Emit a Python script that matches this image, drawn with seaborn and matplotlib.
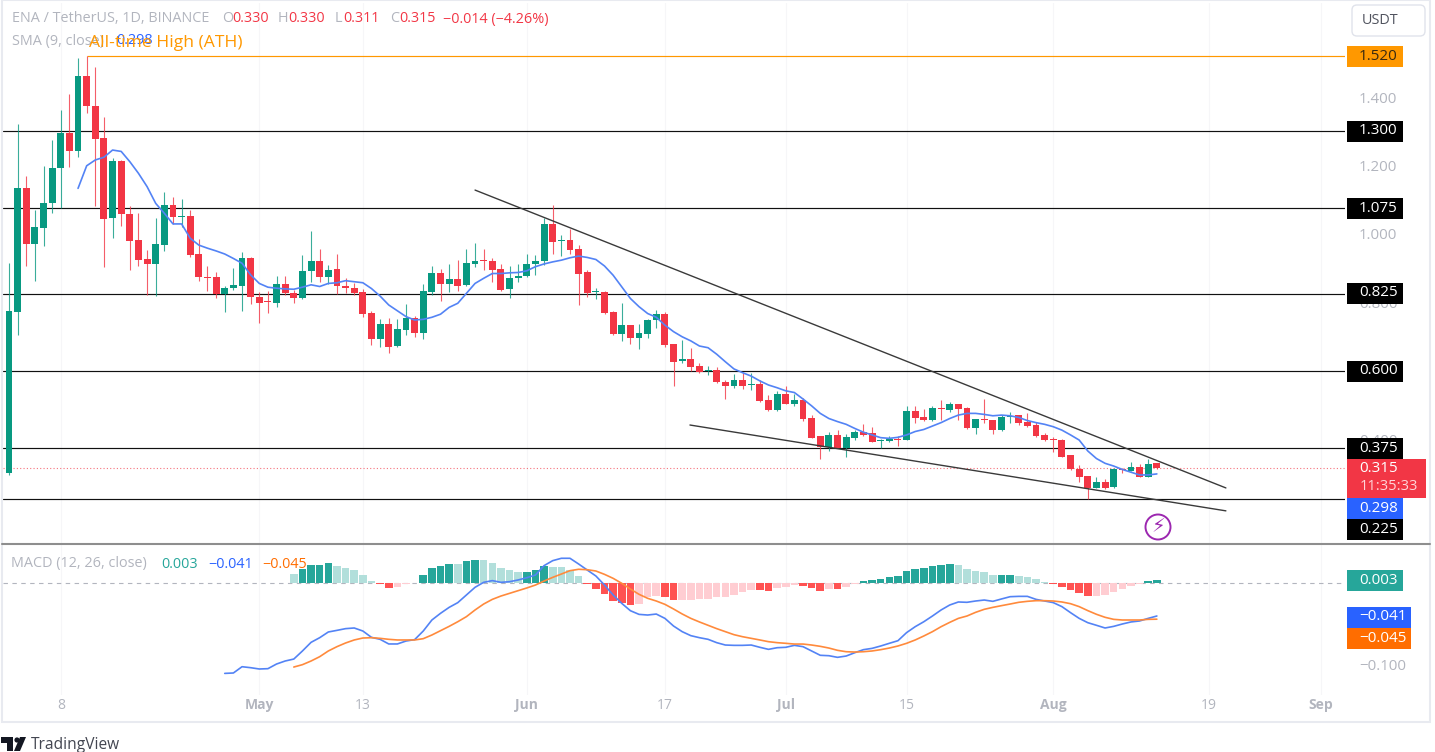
import matplotlib
matplotlib.use("Agg")
import matplotlib.pyplot as plt
from matplotlib.patches import Rectangle, FancyBboxPatch, Circle, Polygon
import numpy as np
import seaborn as sns

# daily candles, day 0 = 2 Apr
OPENS = [
    .301, .772, 1.135, .970, 1.017, 1.089, 1.192, 1.295, 1.243, 1.463,
    1.375, 1.280, 1.047, 1.212, 1.058, .982, .925, .911, .967, 1.085,
    1.048, 1.052, .940, .875, .873, .823, .841, .847, .928, .816,
    .803, .797, .853, .828, .811, .891, .922, .875, .896, .848,
    .841, .831, .769, .692, .736, .672, .719, .753, .711, .831,
    .886, .852, .867, .851, .911, .924, .922, .896, .838, .871,
    .878, .912, .921, 1.029, .980, .982, .955, .887, .829, .831,
    .772, .707, .733, .695, .707, .748, .767, .677, .628, .635,
    .614, .600, .603, .568, .556, .573, .559, .561, .514, .485,
    .532, .502, .514, .461, .408, .376, .413, .375, .402, .422,
    .417, .395, .394, .400, .397, .482, .463, .456, .490, .485,
    .502, .490, .431, .460, .456, .426, .465, .470, .450, .441,
    .412, .399, .397, .352, .313, .292, .258, .274, .260, .312,
    .307, .319, .290, .330,
]
HIGHS = [
    .915, 1.321, 1.170, 1.070, 1.198, 1.274, 1.363, 1.408, 1.513, 1.520,
    1.487, 1.343, 1.221, 1.215, 1.082, 1.060, .953, 1.045, 1.123, 1.109,
    1.102, 1.070, .986, .907, .889, .848, .899, .946, .933, .831,
    .834, .878, .877, .836, .938, 1.008, .955, .909, .940, .872,
    .855, .838, .775, .751, .753, .751, .795, .760, .852, .906,
    .897, .912, .923, .955, .974, .957, .928, .912, .906, .912,
    .941, .938, 1.045, 1.084, .996, 1.013, .967, .894, .842, .832,
    .775, .797, .733, .735, .750, .777, .772, .677, .689, .667,
    .621, .614, .612, .573, .590, .592, .592, .573, .529, .541,
    .556, .532, .521, .470, .408, .421, .426, .414, .426, .443,
    .435, .399, .409, .409, .497, .497, .488, .497, .514, .508,
    .502, .495, .458, .517, .456, .470, .478, .470, .475, .449,
    .417, .407, .399, .353, .324, .292, .288, .284, .314, .314,
    .334, .326, .341, .330,
]
LOWS = [
    .296, .704, .907, .863, .964, 1.062, 1.075, 1.196, 1.226, 1.354,
    1.082, .904, .989, 1.023, .894, .906, .821, .818, .951, 1.029,
    1.021, .933, .862, .834, .813, .772, .836, .775, .795, .738,
    .768, .785, .821, .797, .809, .860, .860, .853, .824, .826,
    .821, .758, .675, .668, .653, .670, .704, .699, .692, .821,
    .804, .831, .834, .848, .904, .894, .860, .833, .813, .860,
    .875, .879, .909, .941, .935, .941, .792, .816, .809, .766,
    .703, .687, .678, .662, .694, .725, .668, .556, .621, .599,
    .592, .587, .563, .516, .548, .545, .543, .509, .483, .483,
    .501, .496, .454, .402, .343, .366, .373, .348, .397, .410,
    .390, .373, .390, .381, .397, .448, .453, .454, .457, .480,
    .456, .429, .415, .446, .415, .424, .448, .442, .436, .407,
    .394, .363, .348, .310, .275, .224, .256, .254, .258, .300,
    .306, .290, .290, .311,
]
CLOSES = [
    .774, 1.135, .970, 1.020, 1.091, 1.192, 1.295, 1.243, 1.463, 1.373,
    1.278, 1.044, 1.212, 1.057, .980, .924, .911, .969, 1.085, 1.050,
    1.051, .937, .873, .871, .823, .842, .850, .928, .814, .797,
    .800, .853, .826, .811, .892, .922, .875, .894, .847, .841,
    .828, .765, .692, .736, .668, .722, .753, .711, .834, .886,
    .852, .867, .848, .914, .922, .921, .894, .837, .872, .878,
    .911, .922, 1.029, .977, .983, .953, .884, .826, .832, .769,
    .707, .733, .695, .709, .748, .767, .674, .624, .635, .611,
    .597, .603, .566, .556, .573, .556, .562, .512, .485, .532,
    .503, .514, .459, .403, .376, .413, .375, .405, .422, .412,
    .390, .398, .400, .397, .482, .461, .457, .490, .487, .502,
    .489, .431, .458, .455, .426, .465, .468, .446, .439, .409,
    .397, .396, .348, .311, .290, .258, .274, .258, .311, .309,
    .319, .290, .327, .315,
]

# SMA 9 starts on day 8
SMA_START = 8
SMA = [
    1.133, 1.199, 1.216, 1.224, 1.245, 1.241, 1.211, 1.177, 1.138, 1.089,
    1.060, 1.029, 1.029, .987, .967, .958, .950, .941, .928, .914,
    .880, .855, .844, .841, .839, .838, .844, .851, .846, .855,
    .857, .863, .860, .857, .840, .818, .792, .775, .758, .748,
    .750, .756, .765, .785, .797, .826, .855, .870, .884, .884,
    .886, .887, .892, .904, .912, .918, .923, .930, .935, .931,
    .925, .906, .879, .845, .811, .787, .767, .756, .733, .714,
    .699, .687, .672, .667, .648, .626, .605, .594, .584, .570,
    .558, .550, .541, .536, .517, .497, .475, .460, .451, .443,
    .431, .420, .412, .404, .402, .405, .412, .422, .428, .438,
    .448, .460, .470, .475, .475, .472, .468, .470, .468, .463,
    .454, .448, .443, .436, .426, .412, .397, .365, .343, .329,
    .321, .311, .303, .295, .295, .298,
]

MACD_START = 25
MACD = [
    -.1115, -.1110, -.1033, -.1045, -.1061, -.1057, -.1000, -.0963, -.0939, -.0840,
    -.0734, -.0677, -.0607, -.0587, -.0566, -.0558, -.0595, -.0673, -.0697, -.0754,
    -.0754, -.0718, -.0701, -.0595, -.0460, -.0378, -.0305, -.0247, -.0153, -.0059,
    .0002, .0023, .0002, .0010, .0031, .0059, .0092, .0207, .0268, .0297,
    .0297, .0227, .0153, .0080, -.0031, -.0153, -.0256, -.0346, -.0391, -.0399,
    -.0387, -.0440, -.0534, -.0603, -.0652, -.0677, -.0697, -.0738, -.0767, -.0771,
    -.0771, -.0767, -.0795, -.0820, -.0800, -.0795, -.0771, -.0787, -.0840, -.0893,
    -.0898, -.0918, -.0902, -.0861, -.0824, -.0808, -.0779, -.0746, -.0714, -.0615,
    -.0542, -.0481, -.0411, -.0337, -.0276, -.0239, -.0243, -.0227, -.0215, -.0231,
    -.0202, -.0174, -.0170, -.0170, -.0207, -.0227, -.0247, -.0296, -.0370, -.0440,
    -.0493, -.0525, -.0558, -.0538, -.0509, -.0484, -.0472, -.0440, -.0411,
]

SIGNAL_START = 33
SIGNAL = [
    -.1037, -.1008, -.0963, -.0910, -.0840, -.0787, -.0742, -.0705, -.0681, -.0677,
    -.0685, -.0697, -.0705, -.0705, -.0705, -.0689, -.0644, -.0591, -.0538, -.0481,
    -.0419, -.0337, -.0264, -.0207, -.0166, -.0133, -.0100, -.0067, -.0031, .0018,
    .0063, .0104, .0145, .0162, .0157, .0141, .0100, .0051, -.0010, -.0080,
    -.0145, -.0194, -.0227, -.0268, -.0325, -.0386, -.0440, -.0484, -.0525, -.0566,
    -.0603, -.0640, -.0665, -.0685, -.0705, -.0726, -.0738, -.0746, -.0755, -.0755,
    -.0767, -.0783, -.0804, -.0832, -.0849, -.0853, -.0849, -.0840, -.0824, -.0804,
    -.0779, -.0746, -.0705, -.0656, -.0603, -.0542, -.0489, -.0440, -.0411, -.0366,
    -.0329, -.0305, -.0284, -.0264, -.0243, -.0231, -.0223, -.0223, -.0227, -.0239,
    -.0260, -.0296, -.0345, -.0390, -.0427, -.0452, -.0460, -.0460, -.0460, -.0452, -.0450,
]

HIST = [
    .0104, .0162, .0215, .0220, .0235, .0202, .0178, .0153, .0092, .0018,
    -.0018, -.0067, -.0051, -.0014, -.0010, .0092, .0178, .0207, .0231, .0231,
    .0264, .0276, .0276, .0243, .0178, .0153, .0129, .0133, .0153, .0207,
    .0194, .0190, .0153, .0080, -.0018, -.0080, -.0141, -.0227, -.0256, -.0276,
    -.0264, -.0182, -.0166, -.0178, -.0215, -.0215, -.0215, -.0207, -.0198, -.0182,
    -.0174, -.0153, -.0117, -.0092, -.0096, -.0104, -.0072, -.0051, -.0031, -.0043,
    -.0067, -.0104, -.0080, -.0084, -.0051, -.0018, .0014, .0031, .0043, .0067,
    .0084, .0145, .0166, .0182, .0207, .0219, .0231, .0215, .0166, .0141,
    .0129, .0090, .0092, .0094, .0080, .0063, .0039, .0006, -.0018, -.0051,
    -.0092, -.0125, -.0162, -.0162, -.0153, -.0112, -.0076, -.0039, -.0018, .0018, .0030,
]

LEVELS = [1.300, 1.075, .825, .600, .375, .225]
ATH = 1.520
LAST_PRICE = .315
TREND_UPPER_DAYS = [54, 141]
TREND_UPPER_PRICES = [1.128, .257]
TREND_LOWER_DAYS = [78.9, 141]
TREND_LOWER_PRICES = [.441, .190]

TICK_DAYS = [6, 29, 41, 60, 76, 90, 104, 121, 139, 152]
TICK_LABELS = ["8", "May", "13", "Jun", "17", "Jul", "15", "Aug", "19", "Sep"]
PRICE_TICKS = [1.4, 1.2, 1.0, .8, .6, .4]

UP = "#089981"
DOWN = "#f23645"
BLUE = "#2962ff"
ORANGE = "#ff6d00"
GREY = "#b2b5be"
W, H = 1435, 752


def px_axes(fig, left, top, right, bottom):
    return fig.add_axes([left / W, 1 - bottom / H, (right - left) / W, (bottom - top) / H])


def hist_colors(values):
    colors = []
    for i, v in enumerate(values):
        rising = i > 0 and v > values[i - 1]
        falling = i > 0 and v < values[i - 1]
        if v >= 0:
            colors.append("#26a69a" if rising else "#b2dfdb")
        else:
            colors.append("#ff5252" if falling else "#ffcdd2")
    return colors


sns.set_theme(style="white")
plt.rcParams["font.family"] = ["Open Sans", "DejaVu Sans"]

fig = plt.figure(figsize=(W / 100, H / 100), dpi=100, facecolor="white")
ax = px_axes(fig, 3, 3, 1345, 543)
sub = px_axes(fig, 3, 545, 1345, 695)
xlim = (-0.695, 154.8)

days = np.arange(len(OPENS))
opens = np.array(OPENS)
closes = np.array(CLOSES)
colors = [UP if c >= o else DOWN for o, c in zip(opens, closes)]

for a in (ax, sub):
    for t in TICK_DAYS:
        a.axvline(t, color="#f6f6f8", lw=0.8, zorder=0)

for level in LEVELS:
    ax.axhline(level, color="#111111", lw=0.85, zorder=1)
ax.hlines(ATH, 9, xlim[1], color="#ff9800", lw=0.85, zorder=1)
ax.axhline(LAST_PRICE, color=DOWN, lw=0.8, ls=(0, (1, 2)), alpha=0.7, zorder=1)

ax.vlines(days, LOWS, HIGHS, color=colors, lw=0.8, alpha=0.8, zorder=2)
ax.bar(days, np.maximum(np.abs(closes - opens), 0.003), bottom=np.minimum(opens, closes),
       width=0.8, color=colors, edgecolor="none", zorder=2.5)

sns.lineplot(x=np.arange(len(SMA)) + SMA_START, y=SMA, ax=ax, color="#5383f5", linewidth=1.2,
             zorder=3, legend=False)
sns.lineplot(x=TREND_UPPER_DAYS, y=TREND_UPPER_PRICES, ax=ax, color="#3a3a3a", linewidth=1.0,
             zorder=3, legend=False)
sns.lineplot(x=TREND_LOWER_DAYS, y=TREND_LOWER_PRICES, ax=ax, color="#3a3a3a", linewidth=1.0,
             zorder=3, legend=False)

ax.set_xlim(xlim)
ax.set_ylim(.096, 1.675)
ax.set_xticks([])
ax.yaxis.tick_right()
ax.set_yticks(PRICE_TICKS)
ax.set_yticklabels([f"{p:.3f}" for p in PRICE_TICKS])

sub.axhline(0, color=GREY, lw=0.8, ls=(0, (4, 4)), zorder=1)
hist_days = np.arange(len(HIST)) + SIGNAL_START
sub.bar(hist_days, HIST, width=0.88, color=hist_colors(HIST), edgecolor="none", zorder=2)
sns.lineplot(x=np.arange(len(MACD)) + MACD_START, y=MACD, ax=sub, color="#5383f5", linewidth=1.2,
             zorder=3, legend=False)
sns.lineplot(x=np.arange(len(SIGNAL)) + SIGNAL_START, y=SIGNAL, ax=sub, color="#ff8a3c", linewidth=1.2,
             zorder=4, legend=False)
sub.set_xlim(xlim)
sub.set_ylim(-.138, .046)
sub.yaxis.tick_right()
sub.set_yticks([-.1])
sub.set_yticklabels(["\u22120.100"])
sub.set_xticks(TICK_DAYS)
sub.set_xticklabels(TICK_LABELS)
for lab in sub.get_xticklabels():
    if lab.get_text().isalpha():
        lab.set_fontweight("bold")

for a in (ax, sub):
    a.set_facecolor("white")
    a.set_xlabel("")
    a.set_ylabel("")
    sns.despine(ax=a, left=True, right=True, top=True, bottom=True)
    a.tick_params(axis="y", length=0, pad=10, labelsize=10.8, labelcolor=GREY)
    a.tick_params(axis="x", length=0, pad=2.5, labelsize=10, labelcolor=GREY)

# overlay in pixel coordinates for the TradingView chrome
ov = fig.add_axes([0, 0, 1, 1], zorder=10)
ov.set_xlim(0, W)
ov.set_ylim(H, 0)
ov.axis("off")
ov.patch.set_alpha(0)

ov.add_patch(Rectangle((2, 0), 1428, 722, fill=False, ec="#e8eaf0", lw=1.5))
ov.add_line(plt.Line2D([2, 1430], [544, 544], color="#8e8e8e", lw=1.5))


def price_box(label, y, color, text_color="white", right=1403):
    ov.add_patch(Rectangle((1347, y - 10.5), right - 1347, 21, color=color, lw=0))
    ov.text(1359, y, label, color=text_color, fontsize=11, va="center", ha="left")


price_box("1.520", 56, "#ff9800", "#3a2a10")
for lab, y in [("1.300", 131), ("1.075", 208), ("0.825", 293), ("0.600", 371), ("0.375", 448), ("0.225", 529.5)]:
    price_box(lab, y, "black")
ov.add_patch(Rectangle((1347, 458.5), 79, 39, color=DOWN, lw=0))
ov.text(1359, 469, "0.315", color="white", fontsize=11, va="center")
ov.text(1360, 487, "11:35:33", color="#ffd5d9", fontsize=10.6, va="center")
price_box("0.298", 508, BLUE)
price_box("0.003", 580.5, "#26a69a")
price_box("\u22120.041", 617, BLUE, right=1411)
price_box("\u22120.045", 638, ORANGE, right=1411)

ov.add_patch(FancyBboxPatch((1355, 8), 67, 25, boxstyle="round,pad=3,rounding_size=5",
                            fc="white", ec="#e0e3eb", lw=1))
ov.text(1380, 20.5, "USDT", color="#50535e", fontsize=10.4, ha="center", va="center")

fs = 10.4
ov.text(12, 19, "ENA / TetherUS, 1D, BINANCE", color=GREY, fontsize=fs, va="center")
for x, txt, col in [(222, "O", GREY), (232, "0.330", DOWN), (278, "H", GREY), (288, "0.330", DOWN),
                    (335, "L", GREY), (343, "0.311", DOWN), (390, "C", GREY), (399, "0.315", DOWN),
                    (443, "\u22120.014 (\u22124.26%)", DOWN)]:
    ov.text(x, 19, txt, color=col, fontsize=fs, va="center")
ov.text(12, 41, "SMA (9, close)", color=GREY, fontsize=fs, va="center")
ov.text(116, 41, "0.298", color=BLUE, fontsize=fs, va="center")
ov.text(89, 43, "All-time High (ATH)", color="#ff9800", fontsize=12.6, va="center")

ov.text(11, 564, "MACD (12, 26, close)", color=GREY, fontsize=fs, va="center")
ov.text(161, 564, "0.003", color="#26a69a", fontsize=fs, va="center")
ov.text(208, 564, "\u22120.041", color=BLUE, fontsize=fs, va="center")
ov.text(262, 564, "\u22120.045", color=ORANGE, fontsize=fs, va="center")

ov.add_patch(Circle((1158, 527), 12.5, fill=False, ec="#9c27b0", lw=1.4))
ov.text(1158, 527, "\u26a1", color="#9c27b0", fontsize=14, ha="center", va="center",
        family="DejaVu Sans", fontweight="bold")

# logo
ov.add_patch(Polygon([(1, 737), (13, 737), (13, 751), (7, 751), (7, 743), (1, 743)], color="#131722", lw=0))
ov.add_patch(Circle((17, 740), 2.6, color="#131722", lw=0))
ov.add_patch(Polygon([(20, 737), (26, 737), (20, 751), (14, 751)], color="#131722", lw=0))
ov.text(31, 745, "TradingView", color="#434651", fontsize=11.2, va="center")

fig.savefig("out.png", dpi=100, facecolor="white")
plt.close(fig)
